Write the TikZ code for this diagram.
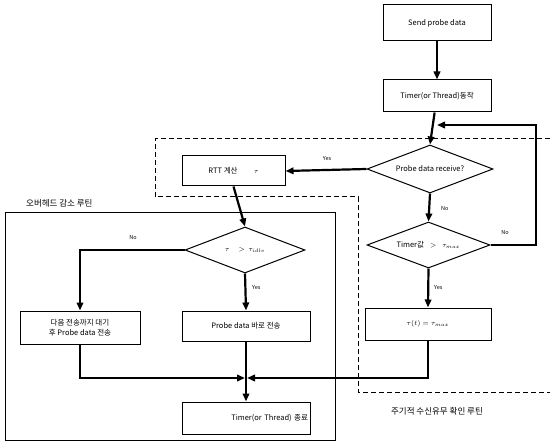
\documentclass[tikz,border=0pt]{standalone}
\usepackage{fontspec}
\setmainfont{Noto Sans CJK KR}
\usetikzlibrary{shapes.geometric,arrows.meta}
\begin{document}
\begin{tikzpicture}[x=1pt,y=-1pt,
  box/.style={draw,line width=1pt,inner sep=1pt,align=center,font=\fontsize{7.5}{9.5}\selectfont},
  dia/.style={draw,diamond,line width=1pt,inner sep=0pt},
  dtext/.style={font=\fontsize{7.5}{9.5}\selectfont},
  conn/.style={line width=2.2pt},
  arr/.style={conn,-{Triangle[length=8pt,width=6.5pt]}},
  lbl/.style={font=\fontsize{5.5}{6}\selectfont,inner sep=0pt},
  region/.style={line width=1pt,dash pattern=on 5pt off 3pt}]
\useasboundingbox (0,0) rectangle (550,444);
% regions
\draw[region] (550,139) -- (155,139) -- (155,197) -- (358,197) -- (358,392) -- (550,392);
\draw[line width=1pt] (5,213) rectangle (335,440);
\node[anchor=west,font=\fontsize{8.5}{9}\selectfont,inner sep=0pt] (lov) at (26,203) {오버헤드 감소 루틴};
\node[font=\fontsize{8.5}{9}\selectfont,inner sep=0pt] (lper) at (437,411) {주기적 수신유무 확인 루틴};
% nodes
\node[box,minimum width=108pt,minimum height=36pt] (send) at (437,23) {Send probe data};
\node[box,minimum width=108pt,minimum height=32pt] (timer) at (437,96) {Timer(or Thread)동작};
\node[dia,minimum width=126pt,minimum height=48pt,label={[dtext]center:Probe data receive?}] (recv) at (430,169) {};
\node[box,minimum width=103pt,minimum height=30pt] (rtt) at (233.5,171) {RTT 계산\hspace{2.2em}$\tau$};
\node[dia,minimum width=123pt,minimum height=46pt,label={[dtext]center:Timer값\hspace{0.8em}$>$\hspace{0.8em}$\tau_{max}$}] (tmax) at (428.5,245) {};
\node[box,minimum width=126pt,minimum height=32pt] (tau) at (428,324) {$\tau(t) = \tau_{max}$};
\node[dia,minimum width=120pt,minimum height=46pt,label={[dtext]center:$\tau$\hspace{1.2em}$>$\hspace{0.5em}$\tau_{idle}$}] (idle) at (245,250) {};
\node[box,minimum width=120pt,minimum height=33pt] (left) at (80,327.5) {다음 전송까지 대기\\후 Probe data 전송};
\node[box,minimum width=128pt,minimum height=30pt] (mid) at (246,326) {Probe data 바로 전송};
\node[box,minimum width=128pt,minimum height=32pt,align=right,text width=124pt] (fin) at (246,418) {Timer(or Thread) 종료};
\coordinate (j) at (246,378);
\coordinate (lc) at (536,125);
\coordinate (lin) at (437,125);
% connectors
\draw[arr] (send) -- (timer);
\draw[arr] (timer) -- (recv.north);
\draw[arr] (recv.west) -- (rtt.east);
\draw[arr] (recv.south) -- (tmax.north);
\draw[arr] (tmax.east) -| (lc) -- (lin);
\draw[arr] (tmax.south) -- (tau.north);
\draw[arr] (rtt.south) -- (idle.north);
\draw[arr] (idle.west) -| (left.north);
\draw[arr] (idle.south) -- (mid.north);
\draw[arr,shorten >=1pt] (left.south) |- (j);
\draw[arr,shorten >=1pt] (tau.south) |- (j);
\draw[arr] (mid.south) -- (fin.north);
% labels
\node[lbl] (y1) at (327,159) {Yes};
\node[lbl,anchor=west] (n1) at (441,209) {No};
\node[lbl] (n2) at (505,233) {No};
\node[lbl,anchor=west] (y2) at (434,288) {Yes};
\node[lbl] (n3) at (133,238) {No};
\node[lbl,anchor=west] (y3) at (252,288) {Yes};
\end{tikzpicture}
\end{document}
